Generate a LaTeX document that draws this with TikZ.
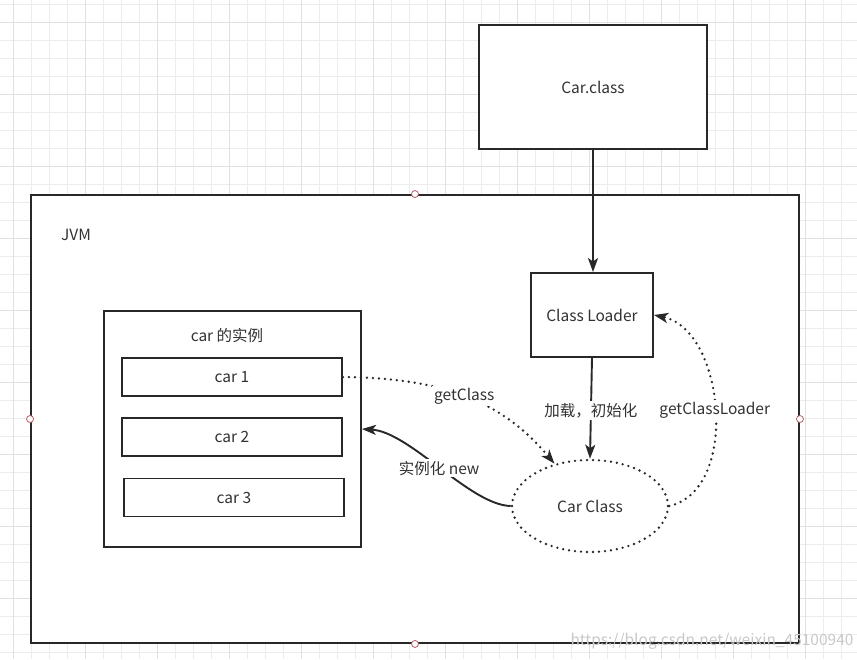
\documentclass[tikz,border=0pt]{standalone}
\usepackage{fontspec}
\setmainfont{Noto Sans CJK SC}
\usetikzlibrary{arrows.meta,positioning,shapes.geometric}
\definecolor{gridcol}{RGB}{236,236,236}
\definecolor{gridmaj}{RGB}{224,224,224}
\definecolor{linecol}{RGB}{40,40,40}
\definecolor{textcol}{RGB}{50,50,50}
\definecolor{handle}{RGB}{185,95,105}
\definecolor{markcol}{RGB}{200,200,200}
\tikzset{
  frame/.style={draw=linecol, line width=1.9pt, fill=white, text=textcol},
  carbox/.style={frame, minimum width=220pt, minimum height=38pt},
  flow/.style={-{Stealth[length=14pt, width=10pt, inset=3.5pt]}, line width=1.9pt, draw=linecol},
  dotline/.style={flow, line width=2.6pt, line cap=round, dash pattern=on 0pt off 6pt},
  lab/.style={fill=white, inner sep=2pt, text=textcol},
  grip/.style={circle, draw=handle, fill=white, inner sep=0pt, minimum size=7pt, line width=0.8pt},
}
\begin{document}
\begin{tikzpicture}[x=1pt, y=-1pt, every node/.append style={font=\fontsize{15.5}{18}\selectfont}]
  \useasboundingbox (0,0) rectangle (857,659);
  % background grid
  \foreach \gx in {13,31,...,857} \draw[gridcol, line width=0.8pt] (\gx,0) -- (\gx,659);
  \foreach \gy in {4,22,...,659} \draw[gridcol, line width=0.8pt] (0,\gy) -- (857,\gy);
  \foreach \gx in {13,85,...,857} \draw[gridmaj, line width=0.8pt] (\gx,0) -- (\gx,659);
  \foreach \gy in {22,94,...,659} \draw[gridmaj, line width=0.8pt] (0,\gy) -- (857,\gy);
  % boxes
  \node[frame, minimum width=228pt, minimum height=124pt] (carfile) at (593,87) {Car.class};
  \node[frame, minimum width=768pt, minimum height=448pt] (jvm) at (415,419) {};
  \node[text=textcol] (jvmlabel) at (76,235) {JVM};
  \node[frame, minimum width=122pt, minimum height=84pt] (loader) at (592,315) {Class Loader};
  \node[ellipse, draw=linecol, line width=2.6pt, line cap=round, dash pattern=on 0pt off 6pt, text=textcol,
        minimum width=156pt, minimum height=92pt] (carclass) at (590,506) {Car Class};
  \node[frame, minimum width=257pt, minimum height=236pt] (inst) at (232.5,429) {};
  \node[text=textcol] (insttitle) at (227,336) {car 的实例};
  \node[carbox] (car1) at (232,377) {car 1};
  \node[carbox, below=20pt of car1] (car2) {car 2};
  \node[carbox] (car3) at (234,497.5) {car 3};
  % connectors
  \draw[flow] (carfile.south) -- (carfile.south |- loader.north);
  \draw[flow] (loader.south) -- (carclass.north) node[pos=0.52, lab] {加载，初始化};
  \draw[dotline] (car1.east) .. controls (450,378) and (505,405) .. (carclass.130)
    node[pos=0.47, lab] {getClass};
  \draw[flow] (carclass.west) .. controls (470,505) and (410,432) .. (inst.east)
    node[pos=0.5, lab] {实例化 new};
  \draw[dotline] (carclass.east) .. controls (740,490) and (725,330) .. (loader.east)
    node[pos=0.5, lab] {getClassLoader};
  % selection handles
  \node[grip] (gn) at (jvm.north) {};
  \node[grip] (gs) at (jvm.south) {};
  \node[grip] (gw) at (jvm.west) {};
  \node[grip] (ge) at (jvm.east) {};
  \node[text=markcol] (mark) at (712,641) {https://blog.csdn.net/weixin\_45100940};
\end{tikzpicture}
\end{document}
